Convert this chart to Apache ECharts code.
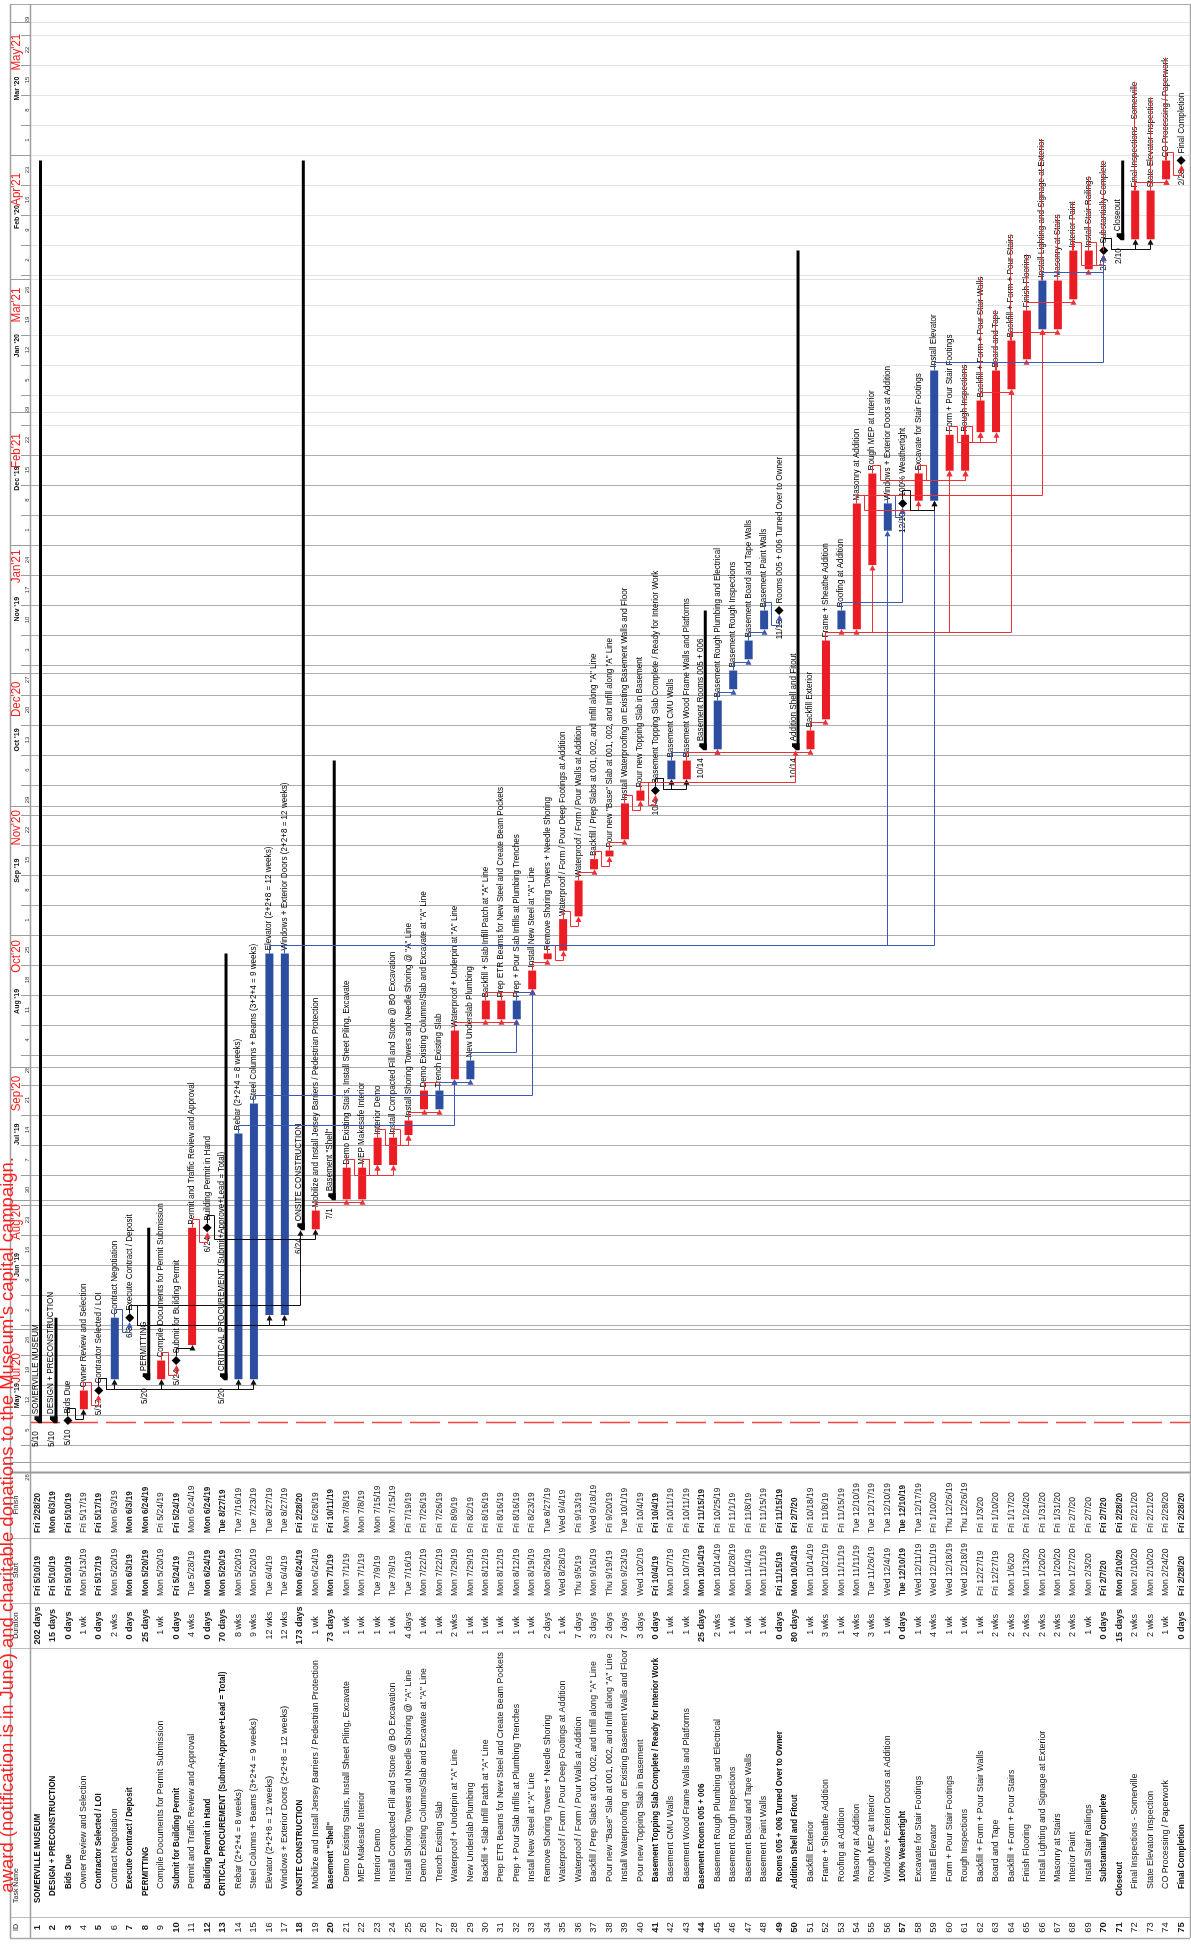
<!DOCTYPE html>
<html>
<head>
<meta charset="utf-8">
<title>Somerville Museum schedule</title>
<script src="https://cdn.jsdelivr.net/npm/echarts@6/dist/echarts.min.js"></script>
<style>
  html, body { margin: 0; padding: 0; background: #fff; }
  #gantt { width: 1191px; height: 1954px; }
</style>
</head>
<body>
<div id="gantt"></div>
<script>
// ---- task table ----
var taskNames = [
  'SOMERVILLE MUSEUM', 'DESIGN + PRECONSTRUCTION', 'Bids Due', 'Owner Review and Selection',
  'Contractor Selected / LOI', 'Contract Negotiation', 'Execute Contract / Deposit', 'PERMITTING',
  'Compile Documents for Permit Submission', 'Submit for Building Permit',
  'Permit and Traffic Review and Approval', 'Building Permit in Hand',
  'CRITICAL PROCUREMENT (Submit+Approve+Lead = Total)', 'Rebar (2+2+4 = 8 weeks)',
  'Steel Columns + Beams (3+2+4 = 9 weeks)', 'Elevator (2+2+8 = 12 weeks)',
  'Windows + Exterior Doors (2+2+8 = 12 weeks)', 'ONSITE CONSTRUCTION',
  'Mobilize and Install Jersey Barriers / Pedestrian Protection', 'Basement "Shell"',
  'Demo Existing Stairs, Install Sheet Piling, Excavate', 'MEP Makesafe Interior', 'Interior Demo',
  'Install Compacted Fill and Stone @ BO Excavation',
  'Install Shoring Towers and Needle Shoring @ "A" Line',
  'Demo Existing Columns/Slab and Excavate at "A" Line', 'Trench Existing Slab',
  'Waterproof + Underpin at "A" Line', 'New Underslab Plumbing',
  'Backfill + Slab Infill Patch at "A" Line',
  'Prep ETR Beams for New Steel and Create Beam Pockets',
  'Prep + Pour Slab Infills at Plumbing Trenches', 'Install New Steel at "A" Line',
  'Remove Shoring Towers + Needle Shoring',
  'Waterproof / Form / Pour Deep Footings at Addition',
  'Waterproof / Form / Pour Walls at Addition',
  'Backfill / Prep Slabs at 001, 002, and Infill along "A" Line',
  'Pour new "Base" Slab at 001, 002, and Infill along "A" Line',
  'Install Waterproofing on Existing Basement Walls and Floor',
  'Pour new Topping Slab in Basement',
  'Basement Topping Slab Complete / Ready for Interior Work', 'Basement CMU Walls',
  'Basement Wood Frame Walls and Platforms', 'Basement Rooms 005 + 006',
  'Basement Rough Plumbing and Electrical', 'Basement Rough Inspections',
  'Basement Board and Tape Walls', 'Basement Paint Walls',
  'Rooms 005 + 006 Turned Over to Owner', 'Addition Shell and Fitout', 'Backfill Exterior',
  'Frame + Sheathe Addition', 'Roofing at Addition', 'Masonry at Addition',
  'Rough MEP at Interior', 'Windows + Exterior Doors at Addition', '100% Weathertight',
  'Excavate for Stair Footings', 'Install Elevator', 'Form + Pour Stair Footings',
  'Rough Inspections', 'Backfill + Form + Pour Stair Walls', 'Board and Tape',
  'Backfill + Form + Pour Stairs', 'Finish Flooring',
  'Install Lighting and Signage at Exterior', 'Masonry at Stairs', 'Interior Paint',
  'Install Stair Railings', 'Substantially Complete', 'Closeout',
  'Final Inspections - Somerville', 'State Elevator Inspection', 'CO Processing / Paperwork',
  'Final Completion'
];

var durations = [
  '202 days', '15 days', '0 days', '1 wk', '0 days', '2 wks', '0 days', '25 days', '1 wk', '0 days',
  '4 wks', '0 days', '70 days', '8 wks', '9 wks', '12 wks', '12 wks', '173 days', '1 wk', '73 days',
  '1 wk', '1 wk', '1 wk', '1 wk', '4 days', '1 wk', '1 wk', '2 wks', '1 wk', '1 wk',
  '1 wk', '1 wk', '1 wk', '2 days', '1 wk', '7 days', '3 days', '2 days', '7 days', '3 days',
  '0 days', '1 wk', '1 wk', '25 days', '2 wks', '1 wk', '1 wk', '1 wk', '0 days', '80 days',
  '1 wk', '3 wks', '1 wk', '4 wks', '3 wks', '1 wk', '0 days', '1 wk', '4 wks', '1 wk',
  '1 wk', '1 wk', '2 wks', '2 wks', '2 wks', '2 wks', '2 wks', '2 wks', '1 wk', '0 days',
  '15 days', '2 wks', '2 wks', '1 wk', '0 days'
];

var startDates = [
  'Fri 5/10/19', 'Fri 5/10/19', 'Fri 5/10/19', 'Mon 5/13/19', 'Fri 5/17/19', 'Mon 5/20/19', 'Mon 6/3/19', 'Mon 5/20/19', 'Mon 5/20/19', 'Fri 5/24/19',
  'Tue 5/28/19', 'Mon 6/24/19', 'Mon 5/20/19', 'Mon 5/20/19', 'Mon 5/20/19', 'Tue 6/4/19', 'Tue 6/4/19', 'Mon 6/24/19', 'Mon 6/24/19', 'Mon 7/1/19',
  'Mon 7/1/19', 'Mon 7/1/19', 'Tue 7/9/19', 'Tue 7/9/19', 'Tue 7/16/19', 'Mon 7/22/19', 'Mon 7/22/19', 'Mon 7/29/19', 'Mon 7/29/19', 'Mon 8/12/19',
  'Mon 8/12/19', 'Mon 8/12/19', 'Mon 8/19/19', 'Mon 8/26/19', 'Wed 8/28/19', 'Thu 9/5/19', 'Mon 9/16/19', 'Thu 9/19/19', 'Mon 9/23/19', 'Wed 10/2/19',
  'Fri 10/4/19', 'Mon 10/7/19', 'Mon 10/7/19', 'Mon 10/14/19', 'Mon 10/14/19', 'Mon 10/28/19', 'Mon 11/4/19', 'Mon 11/11/19', 'Fri 11/15/19', 'Mon 10/14/19',
  'Mon 10/14/19', 'Mon 10/21/19', 'Mon 11/11/19', 'Mon 11/11/19', 'Tue 11/26/19', 'Wed 12/4/19', 'Tue 12/10/19', 'Wed 12/11/19', 'Wed 12/11/19', 'Wed 12/18/19',
  'Wed 12/18/19', 'Fri 12/27/19', 'Fri 12/27/19', 'Mon 1/6/20', 'Mon 1/13/20', 'Mon 1/20/20', 'Mon 1/20/20', 'Mon 1/27/20', 'Mon 2/3/20', 'Fri 2/7/20',
  'Mon 2/10/20', 'Mon 2/10/20', 'Mon 2/10/20', 'Mon 2/24/20', 'Fri 2/28/20'
];

var finishDates = [
  'Fri 2/28/20', 'Mon 6/3/19', 'Fri 5/10/19', 'Fri 5/17/19', 'Fri 5/17/19', 'Mon 6/3/19', 'Mon 6/3/19', 'Mon 6/24/19', 'Fri 5/24/19', 'Fri 5/24/19',
  'Mon 6/24/19', 'Mon 6/24/19', 'Tue 8/27/19', 'Tue 7/16/19', 'Tue 7/23/19', 'Tue 8/27/19', 'Tue 8/27/19', 'Fri 2/28/20', 'Fri 6/28/19', 'Fri 10/11/19',
  'Mon 7/8/19', 'Mon 7/8/19', 'Mon 7/15/19', 'Mon 7/15/19', 'Fri 7/19/19', 'Fri 7/26/19', 'Fri 7/26/19', 'Fri 8/9/19', 'Fri 8/2/19', 'Fri 8/16/19',
  'Fri 8/16/19', 'Fri 8/16/19', 'Fri 8/23/19', 'Tue 8/27/19', 'Wed 9/4/19', 'Fri 9/13/19', 'Wed 9/18/19', 'Fri 9/20/19', 'Tue 10/1/19', 'Fri 10/4/19',
  'Fri 10/4/19', 'Fri 10/11/19', 'Fri 10/11/19', 'Fri 11/15/19', 'Fri 10/25/19', 'Fri 11/1/19', 'Fri 11/8/19', 'Fri 11/15/19', 'Fri 11/15/19', 'Fri 2/7/20',
  'Fri 10/18/19', 'Fri 11/8/19', 'Fri 11/15/19', 'Tue 12/10/19', 'Tue 12/17/19', 'Tue 12/10/19', 'Tue 12/10/19', 'Tue 12/17/19', 'Fri 1/10/20', 'Thu 12/26/19',
  'Thu 12/26/19', 'Fri 1/3/20', 'Fri 1/10/20', 'Fri 1/17/20', 'Fri 1/24/20', 'Fri 1/31/20', 'Fri 1/31/20', 'Fri 2/7/20', 'Fri 2/7/20', 'Fri 2/7/20',
  'Fri 2/28/20', 'Fri 2/21/20', 'Fri 2/21/20', 'Fri 2/28/20', 'Fri 2/28/20'
];

// S = summary, M = milestone, C = critical task, N = non-critical task
var barKinds = [
  'S', 'S', 'M', 'C', 'M', 'N', 'M', 'S', 'C', 'M',
  'C', 'M', 'S', 'N', 'N', 'N', 'N', 'S', 'C', 'S',
  'C', 'C', 'C', 'C', 'C', 'C', 'N', 'C', 'N', 'C',
  'C', 'N', 'C', 'C', 'C', 'C', 'C', 'C', 'C', 'C',
  'M', 'N', 'C', 'S', 'N', 'N', 'N', 'N', 'M', 'S',
  'C', 'C', 'N', 'C', 'C', 'N', 'M', 'C', 'N', 'C',
  'C', 'C', 'C', 'C', 'C', 'N', 'C', 'C', 'C', 'M',
  'S', 'C', 'C', 'C', 'M'
];

var outlineLevels = [
  0, 1, 2, 2, 2, 2, 2, 1, 2, 2,
  2, 2, 1, 2, 2, 2, 2, 1, 2, 2,
  3, 3, 3, 3, 3, 3, 3, 3, 3, 3,
  3, 3, 3, 3, 3, 3, 3, 3, 3, 3,
  3, 3, 3, 2, 3, 3, 3, 3, 3, 2,
  3, 3, 3, 3, 3, 3, 3, 3, 3, 3,
  3, 3, 3, 3, 3, 3, 3, 3, 3, 3,
  1, 2, 2, 2, 2
];

// predecessor -> successor (task IDs)
var links = [
  [3, 4], [4, 5], [5, 6], [5, 9], [5, 14], [5, 15], [6, 7], [7, 16], [7, 17], [7, 18],
  [9, 10], [10, 11], [11, 12], [12, 19], [19, 21], [19, 22], [21, 23], [22, 23], [22, 24],
  [23, 25], [24, 25], [25, 26], [25, 27], [26, 28], [27, 29], [14, 28], [15, 33],
  [28, 30], [28, 31], [28, 32], [29, 32], [30, 33], [31, 33], [32, 33], [33, 34], [34, 35],
  [35, 36], [36, 37], [37, 38], [38, 39], [39, 40], [40, 41], [41, 42], [41, 43], [42, 45],
  [43, 45], [43, 51], [40, 50], [45, 46], [46, 47], [47, 48], [48, 49], [51, 52], [52, 53],
  [52, 54], [52, 55], [52, 60], [52, 64], [16, 59], [17, 56], [53, 57], [56, 57], [54, 58],
  [54, 66], [55, 61], [58, 60], [58, 61], [57, 59], [60, 62], [61, 62], [61, 63], [62, 64],
  [63, 65], [64, 66], [64, 67], [65, 68], [67, 69], [59, 70], [68, 70], [69, 70], [66, 70],
  [70, 72], [70, 73], [72, 74], [73, 74], [74, 75]
];

// labels drawn struck through in the bar area
var struckRows = [61, 62, 63, 64, 65, 66, 67, 68, 69, 70, 72, 73, 74];

// timescale
var weekLabels = [28, 5, 12, 19, 26, 2, 9, 16, 23, 30, 7, 14, 21, 28, 4, 11, 18, 25, 1, 8, 15, 22, 29,
  6, 13, 20, 27, 3, 10, 17, 24, 1, 8, 15, 22, 29, 5, 12, 19, 26, 2, 9, 16, 23, 1, 8, 15, 22, 29];
var monthNames = ["May '19", "Jun '19", "Jul '19", "Aug '19", "Sep '19", "Oct '19", "Nov '19",
  "Dec '19", "Jan '20", "Feb '20", "Mar '20"];
var monthStarts = ['5/1/19', '6/1/19', '7/1/19', '8/1/19', '9/1/19', '10/1/19', '11/1/19',
  '12/1/19', '1/1/20', '2/1/20', '3/1/20', '4/1/20'];

// red annotation pasted over the timescale
var redMonthLabels = ["Jul'20", "Aug'20", "Sep'20", "Oct'20", "Nov'20", "Dec'20", "Jan'21",
  "Feb'21", "Mar'21", "Apr'21", "May'21"];
var redMonthAt = ['5/23/19', '6/26/19', '7/26/19', '8/27/19', '9/26/19', '10/26/19', '11/26/19',
  '12/23/19', '1/26/20', '2/22/20', '3/25/20'];
var captionText = "award (notification is in June) and charitable donations to the Museum's capital campaign.";

// ---- layout ----
var FF = '"Liberation Sans", Arial, sans-serif';
var ROW_PITCH = 15.46, ROW1_X = 37;
var LEFT = 10, RIGHT = 1190, TOP = 5, BOTTOM = 1938, HEAD_X = 30;
var PX_PER_DAY = 30 / 7;
var xMin = 1 - (ROW1_X - LEFT) / ROW_PITCH;
var xMax = xMin + (RIGHT - LEFT) / ROW_PITCH;
var dMax = 343;
var dMin = dMax - (BOTTOM - TOP) / PX_PER_DAY;
var CHART_EDGE = 1472;
var LIGHT_AFTER = 239;   // gridlines turn faint past this day
var RED = '#ec1c24', BLUE = '#2c4ea0';
var RED_LINK = '#ee3036', BLUE_LINK = '#3b59b2';

var DAY0 = Date.UTC(2019, 3, 28);
function toDay(s) {
  var p = s.split(' ').pop().split('/');
  return (Date.UTC(2000 + (+p[2]), +p[0] - 1, +p[1]) - DAY0) / 86400000;
}
function shortDate(s) {
  var p = s.split(' ').pop().split('/');
  return p[0] + '/' + p[1];
}
var startDay = startDates.map(function (s) { return toDay(s) + 8 / 24; });
var finishDay = finishDates.map(function (s) { return toDay(s) + 17 / 24; });

var measureCtx = document.createElement('canvas').getContext('2d');
function textWidth(t, font) { measureCtx.font = font; return measureCtx.measureText(t).width; }

function snap(v) { return Math.round(v - 0.5) + 0.5; }
function X(api, row) { return api.coord([row, 0])[0]; }
function Y(api, day) { return api.coord([0, day])[1]; }

function vtext(str, x, y, align, font, color, sx) {
  return {
    type: 'text', x: x, y: y, rotation: Math.PI / 2, scaleX: sx || 1,
    style: { text: str, font: font, fill: color || '#000', align: align, verticalAlign: 'middle' }
  };
}
function hline(x1, x2, y, color, w, dash) {
  var yy = snap(y);
  return { type: 'line', shape: { x1: x1, y1: yy, x2: x2, y2: yy },
    style: { stroke: color, lineWidth: w || 1, lineDash: dash || null } };
}
function vline(x, y1, y2, color, w) {
  var xx = snap(x);
  return { type: 'line', shape: { x1: xx, y1: y1, x2: xx, y2: y2 }, style: { stroke: color, lineWidth: w || 1 } };
}

var LABEL_FONT = '9px ' + FF, LABEL_SX = 0.9;

// weekly gridlines + bottom tier
function renderWeek(params, api) {
  var k = params.dataIndex, d = k * 7, y = Y(api, d), kids = [];
  if (k > 0) {
    kids.push(hline(HEAD_X, RIGHT, y, d > LIGHT_AFTER ? '#e4e4e4' : '#adadad'));
    kids.push(hline(21, HEAD_X, y, '#9c9c9c'));
  }
  var yc = Y(api, Math.min(d + 3.5, dMax));
  if (k === 0) yc = (y + CHART_EDGE) / 2 + 4;
  kids.push(vtext(String(weekLabels[k]), 27.5, yc, 'center', '6px ' + FF, '#333'));
  return { type: 'group', children: kids };
}

// month boundaries + top tier
function renderMonth(params, api) {
  var i = params.dataIndex, d0 = toDay(monthStarts[i]), y = Y(api, d0), kids = [];
  kids.push(hline(HEAD_X, RIGHT, y, d0 > LIGHT_AFTER ? '#e4e4e4' : '#adadad'));
  kids.push(hline(LEFT, HEAD_X, y, '#9c9c9c'));
  if (i < monthNames.length) {
    var d1 = toDay(monthStarts[i + 1]);
    kids.push(vtext(monthNames[i], 17.5, Y(api, (d0 + d1) / 2), 'center', 'bold 7px ' + FF, '#111'));
  }
  return { type: 'group', children: kids };
}

function endPt(api, r) {
  var i = r - 1, k = barKinds[i], xc = X(api, r);
  if (k === 'M') return [xc, Y(api, finishDay[i]) - 4.5];
  if (k === 'S') return [xc + 3.5, Y(api, finishDay[i])];
  return [xc + 0.5, Y(api, finishDay[i])];
}
function startPt(api, r) {
  var i = r - 1, k = barKinds[i], xc = X(api, r);
  if (k === 'M') return [xc, Y(api, finishDay[i]) + 4.5];
  if (k === 'S') return [xc + 0.5, Y(api, startDay[i]) + 1];
  return [xc + 0.5, Y(api, startDay[i])];
}

function renderLink(params, api) {
  var L = links[params.dataIndex];
  var a = endPt(api, L[0]), b = startPt(api, L[1]);
  var kind = barKinds[L[0] - 1];
  var col = kind === 'C' ? RED_LINK : (kind === 'N' ? BLUE_LINK : '#111');
  var ax = snap(a[0]), bx = snap(b[0]);
  var y1 = snap(a[1] - 8), pts;
  if (b[1] < y1 - 1) {
    pts = [[ax, a[1]], [ax, y1], [bx, y1], [bx, b[1] + 4]];
  } else {
    var xm = snap(a[0] + ROW_PITCH / 2), y2 = snap(b[1] + 10);
    pts = [[ax, a[1]], [ax, y1], [xm, y1], [xm, y2], [bx, y2], [bx, b[1] + 4]];
  }
  return { type: 'group', children: [
    { type: 'polyline', shape: { points: pts }, style: { stroke: col, lineWidth: 1, fill: null } },
    { type: 'polygon', shape: { points: [[bx, b[1]], [bx - 3, b[1] + 5.5], [bx + 3, b[1] + 5.5]] }, style: { fill: col } }
  ] };
}

function renderTask(params, api) {
  var i = params.dataIndex, row = i + 1, kind = barKinds[i];
  var xc = X(api, row), ys = Y(api, startDay[i]), ye = Y(api, finishDay[i]);
  var kids = [], labelBase;
  if (kind === 'S') {
    var bx = xc + 3.5;
    kids.push({ type: 'rect', shape: { x: bx - 1.5, y: ye, width: 3, height: ys - ye }, style: { fill: '#000' } });
    kids.push({ type: 'polygon', shape: { points: [[bx - 6, ys - 6], [bx + 1.5, ys - 6], [bx + 1.5, ys + 1], [bx - 2, ys + 1], [bx - 6, ys - 3]] }, style: { fill: '#000' } });
    kids.push(vtext(shortDate(startDates[i]), xc - 1, ys + 9, 'right', LABEL_FONT, '#000', LABEL_SX));
    kids.push(vtext(taskNames[i], xc - 1.5, ys - 8, 'left', LABEL_FONT, '#000', LABEL_SX));
  } else if (kind === 'M') {
    kids.push({ type: 'polygon', shape: { points: [[xc, ye - 4.5], [xc + 4.5, ye], [xc, ye + 4.5], [xc - 4.5, ye]] }, style: { fill: '#000' } });
    kids.push(vtext(shortDate(finishDates[i]), xc, ye + 9, 'right', LABEL_FONT, '#000', LABEL_SX));
    labelBase = ye - 7;
    kids.push(vtext(taskNames[i], xc, labelBase, 'left', LABEL_FONT, '#000', LABEL_SX));
  } else {
    kids.push({ type: 'rect', shape: { x: xc - 3.5, y: ye, width: 8, height: ys - ye }, style: { fill: kind === 'C' ? RED : BLUE } });
    labelBase = ye - 3;
    kids.push(vtext(taskNames[i], xc, labelBase, 'left', LABEL_FONT, '#000', LABEL_SX));
  }
  if (struckRows.indexOf(row) >= 0) {
    var w = textWidth(taskNames[i], LABEL_FONT) * LABEL_SX;
    kids.push(vline(xc, ye, labelBase - w, RED_LINK, 1));
  }
  return { type: 'group', children: kids };
}

var TABLE_FONT = '9.5px ' + FF;
function renderRow(params, api) {
  var i = params.dataIndex, xc = X(api, i + 1);
  var bold = barKinds[i] === 'S' || barKinds[i] === 'M';
  var f = (bold ? 'bold ' : '') + TABLE_FONT;
  return { type: 'group', children: [
    vtext(String(i + 1), xc, 1927.5, 'center', f, '#222'),
    vtext(taskNames[i], xc, 1903 - 7 * outlineLevels[i], 'left', f, '#111', bold ? 0.84 : 0.93),
    vtext(durations[i], xc, 1625.5, 'center', f, '#222', 0.95),
    vtext(startDates[i], xc, 1596, 'left', f, '#222', bold ? 0.86 : 0.9),
    vtext(finishDates[i], xc, 1533, 'left', f, '#222', bold ? 0.86 : 0.9)
  ] };
}

function renderFrame(params, api) {
  var ps = Y(api, startDay[0]);
  var hf = '7px ' + FF;
  return { type: 'group', children: [
    hline(HEAD_X, RIGHT, ps, '#f0463f', 1.5, [30, 8]),
    hline(LEFT, RIGHT, 1538, '#bdbdbd'),
    hline(LEFT, RIGHT, 1603, '#bdbdbd'),
    hline(LEFT, RIGHT, 1648, '#bdbdbd'),
    hline(LEFT, RIGHT, 1917, '#bdbdbd'),
    hline(LEFT, RIGHT, CHART_EDGE, '#9a9a9a', 2),
    hline(LEFT, RIGHT, TOP - 1, '#a8a8a8'),
    hline(LEFT, RIGHT, BOTTOM, '#a8a8a8', 1.5),
    vline(LEFT, TOP - 1, BOTTOM, '#a0a0a0', 1.5),
    vline(HEAD_X, TOP - 1, BOTTOM, '#a0a0a0', 1.5),
    vline(RIGHT, TOP - 1, BOTTOM, '#a8a8a8', 1.5),
    vtext('ID', 16, 1927.5, 'center', hf, '#222'),
    vtext('Task Name', 16, 1903, 'left', hf, '#222'),
    vtext('Duration', 16, 1625.5, 'center', hf, '#222'),
    vtext('Start', 16, 1570.5, 'center', hf, '#222'),
    vtext('Finish', 16, 1505, 'center', hf, '#222')
  ] };
}

function renderRedMonth(params, api) {
  var i = params.dataIndex;
  return vtext(redMonthLabels[i], 17, Y(api, toDay(redMonthAt[i])), 'center', '12.5px ' + FF, '#ff1f1f', 0.92);
}
function renderCaption(params, api) {
  return vtext(captionText, 7.5, 1157, 'right', '18.5px ' + FF, '#ff1f1f');
}

function rowData() { return taskNames.map(function (n, i) { return [i + 1, 0]; }); }
function custom(name, z, fn, data) {
  return { type: 'custom', name: name, coordinateSystem: 'cartesian2d', silent: true, clip: false,
    z: z, renderItem: fn, data: data };
}

var chart = echarts.init(document.getElementById('gantt'), null, { renderer: 'canvas' });
chart.setOption({
  animation: false,
  backgroundColor: '#fff',
  grid: { left: LEFT, top: TOP, width: RIGHT - LEFT, height: BOTTOM - TOP },
  xAxis: { type: 'value', min: xMin, max: xMax, show: false },
  yAxis: { type: 'value', min: dMin, max: dMax, show: false },
  series: [
    custom('weeks', 1, renderWeek, weekLabels.map(function (w, k) { return [0, k * 7]; })),
    custom('months', 1, renderMonth, monthStarts.map(function (m) { return [0, toDay(m)]; })),
    custom('frame', 2, renderFrame, [[0, 0]]),
    custom('table', 3, renderRow, rowData()),
    custom('bars', 4, renderTask, rowData()),
    custom('links', 5, renderLink, links.map(function (l) { return [l[1], 0]; })),
    custom('redMonths', 6, renderRedMonth, redMonthLabels.map(function (m, i) { return [0, toDay(redMonthAt[i])]; })),
    custom('caption', 7, renderCaption, [[0, 0]])
  ]
});
</script>
</body>
</html>
